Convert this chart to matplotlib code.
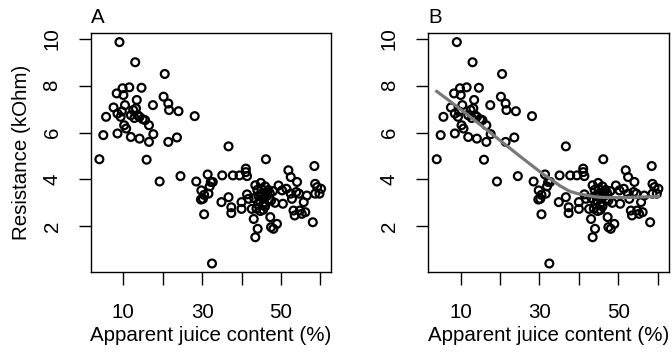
import numpy as np
import matplotlib.pyplot as plt

plt.rcParams['font.family'] = ['Liberation Sans', 'DejaVu Sans']

# apparent juice content (%) and electrical resistance (kOhm)
juice = [
    3.9, 4.9, 5.6, 7.5, 8.3, 8.5, 8.5, 9.0, 9.3, 9.8, 10.0, 10.2, 10.4, 10.7,
    11.5, 11.9, 11.9, 12.5, 13.0, 13.2, 13.4, 13.6, 14.1, 14.1, 14.6, 14.9,
    15.5, 15.9, 16.5, 16.5, 17.5, 17.6, 19.2, 20.2, 20.5, 21.4, 21.6, 21.4,
    23.6, 24.0, 24.5, 28.1, 9.6, 12.8,
    28.5, 29.8, 29.7, 30.2, 30.5, 30.5, 31.4, 31.6, 31.9, 32.2, 32.7, 32.5,
    34.9, 35.1, 36.7, 36.7, 37.4, 37.4, 37.8, 39.5, 40.0, 40.0, 41.1, 41.1,
    41.4, 41.4, 41.8, 42.6, 43.1, 43.5, 44.1, 46.2, 47.3, 47.5, 48.1, 49.0,
    49.4, 50.3, 50.5, 51.4, 51.9, 52.5, 52.5, 52.8, 53.2, 53.5, 53.9, 54.1,
    54.6, 54.8, 55.3, 55.8, 56.2, 56.6, 58.1, 58.5, 58.7, 58.7, 59.2, 59.8,
    60.2,
    43.5, 44.0, 44.3, 44.6, 44.9, 45.0, 45.2, 45.4, 45.6, 45.8, 46.0, 46.3,
    46.5, 46.8, 47.0, 43.8, 44.8, 45.5, 47.5, 48.0, 43.2, 44.2, 46.0, 48.5,
    47.2,
]
ohms = [
    4.86, 5.89, 6.67, 7.07, 7.67, 6.81, 5.96, 9.86, 6.67, 7.89, 7.60, 6.31,
    7.17, 6.17, 7.93, 5.81, 6.74, 6.96, 9.00, 7.03, 7.39, 6.74, 6.67, 5.74,
    7.91, 6.57, 6.53, 4.84, 6.31, 5.60, 7.17, 5.93, 3.91, 7.53, 8.50, 7.24,
    6.96, 5.60, 5.79, 6.91, 4.14, 6.70, 6.90, 6.62,
    3.91, 3.53, 3.14, 3.17, 3.34, 2.51, 4.21, 3.39, 3.70, 3.89, 3.89, 0.41,
    3.03, 4.17, 5.41, 3.24, 2.81, 2.56, 4.17, 4.17, 3.03, 2.74, 4.46, 4.31,
    4.14, 3.36, 3.17, 2.74, 2.31, 1.53, 1.89, 4.86, 2.39, 1.96, 1.89, 2.10,
    3.74, 3.53, 2.96, 3.60, 4.39, 4.10, 3.39, 3.17, 2.67, 2.46, 3.46, 3.89,
    3.39, 2.67, 2.53, 3.03, 2.60, 3.31, 2.17, 4.57, 3.81, 3.39, 3.67, 3.39,
    3.60,
    3.75, 3.55, 3.30, 3.10, 3.85, 3.60, 3.40, 2.90, 3.20, 3.00, 3.70, 3.45,
    3.30, 3.55, 3.15, 2.75, 2.65, 2.70, 3.10, 3.50, 3.20, 2.95, 2.85, 3.00,
    3.40,
]

x_ticks = [10, 20, 30, 40, 50, 60]
x_labels = ['10', '', '30', '', '50', '']
y_ticks = [2, 4, 6, 8, 10]


def lowess(x, y, f=2/3, iters=3):
    # locally weighted linear fit with bisquare robustness steps
    order = np.argsort(x)
    x = np.asarray(x, float)[order]
    y = np.asarray(y, float)[order]
    n = len(x)
    ns = max(min(int(f * n + 1e-7), n), 2)
    rw = np.ones(n)
    fit = np.zeros(n)
    for it in range(iters + 1):
        for i in range(n):
            d = np.abs(x - x[i])
            h = np.sort(d)[ns - 1]
            w = np.clip(1 - (d / max(h, 1e-12)) ** 3, 0, None) ** 3
            w[d > 0.999 * h] = 0
            w[d <= 0.001 * h] = 1
            w *= rw
            sw = w.sum()
            xm = (w * x).sum() / sw
            ym = (w * y).sum() / sw
            sxx = (w * (x - xm) ** 2).sum()
            b = (w * (x - xm) * (y - ym)).sum() / sxx if sxx > 0 else 0
            fit[i] = ym + b * (x[i] - xm)
        res = y - fit
        cmad = 6 * np.median(np.abs(res))
        u = res / cmad
        rw = np.where(np.abs(u) < 1, (1 - u ** 2) ** 2, 0)
    return x, fit


fig = plt.figure(figsize=(6.72, 3.57), dpi=100)
ax_a = fig.add_axes([0.135, 0.237, 0.358, 0.67])
ax_b = fig.add_axes([0.637, 0.237, 0.358, 0.67])

for ax, tag in [(ax_a, 'A'), (ax_b, 'B')]:
    ax.scatter(juice, ohms, s=32, facecolors='none', edgecolors='black',
               linewidths=1.6, zorder=3)
    ax.set_xlim(1.7, 62.8)
    ax.set_ylim(0.03, 10.24)
    ax.set_xticks(x_ticks)
    ax.set_xticklabels(x_labels)
    ax.set_yticks(y_ticks)
    ax.set_yticklabels([str(t) for t in y_ticks], rotation=90, va='center')
    ax.tick_params(axis='x', length=9, width=1, labelsize=14.8, pad=13)
    ax.tick_params(axis='y', length=9, width=1, labelsize=14.8, pad=12)
    for s in ax.spines.values():
        s.set_linewidth(1)
    ax.set_xlabel('Apparent juice content (%)', fontsize=14.8, labelpad=3)
    ax.set_title(tag, loc='left', fontsize=14.8, pad=7)

ax_a.set_ylabel('Resistance (kOhm)', fontsize=14.8, labelpad=8)

lx, ly = lowess(juice, ohms)
ax_b.plot(lx, ly, color='#7a7a7a', linewidth=2.3, zorder=4)

fig.savefig('out.png', dpi=100)
